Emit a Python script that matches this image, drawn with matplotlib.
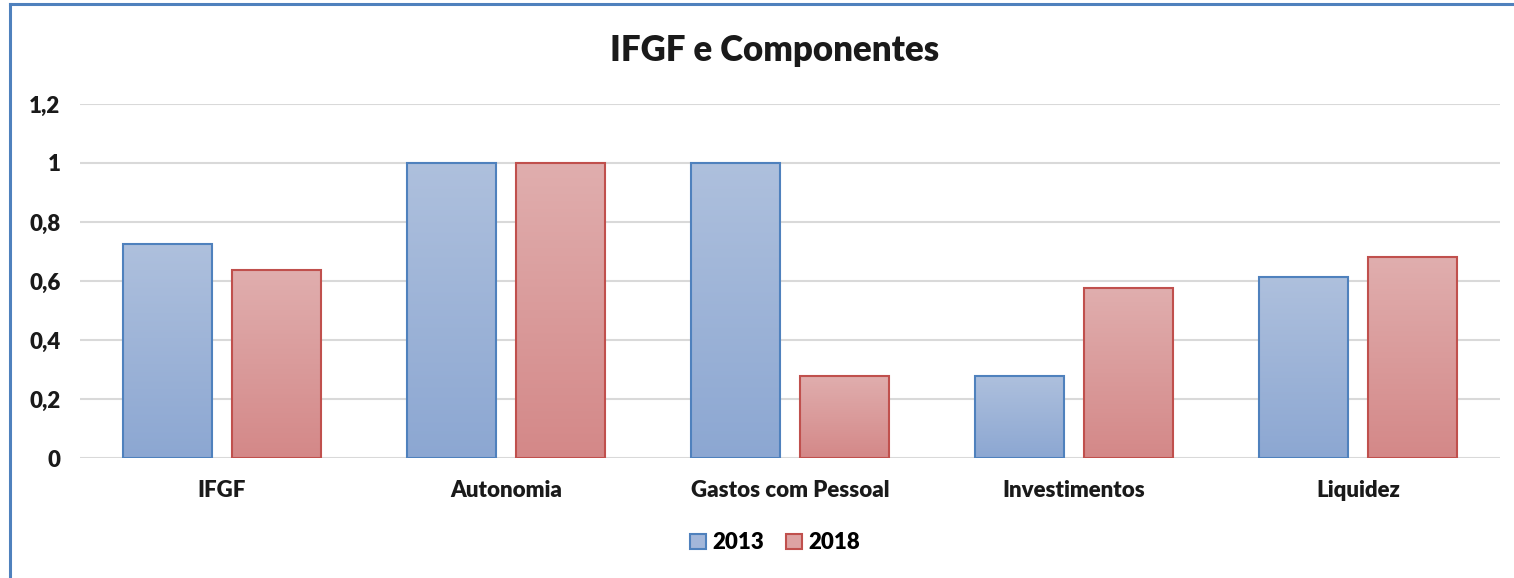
import numpy as np
import matplotlib
matplotlib.use("Agg")
import matplotlib.pyplot as plt
from matplotlib.colors import LinearSegmentedColormap
from matplotlib.lines import Line2D
from matplotlib.patches import Patch

categories = ["IFGF", "Autonomia", "Gastos com Pessoal", "Investimentos", "Liquidez"]
years = ["2013", "2018"]
values_2013 = [0.725, 1.0, 1.0, 0.278, 0.614]
values_2018 = [0.637, 1.0, 0.278, 0.576, 0.681]
yticks = [0, 0.2, 0.4, 0.6, 0.8, 1.0, 1.2]
ytick_labels = ["0", "0,2", "0,4", "0,6", "0,8", "1", "1,2"]

plt.rcParams["font.family"] = ["Lato", "DejaVu Sans"]
plt.rcParams["font.weight"] = "heavy"

fig = plt.figure(figsize=(15.14, 5.78), dpi=100)
ax = fig.add_axes([0.0528, 0.2076, 0.938, 0.6125])

series = [
    (values_2013, -0.192, "#4F81BD", ("#AEC0DD", "#8CA7D2")),
    (values_2018, 0.192, "#C0504D", ("#E0AEAE", "#D48888")),
]
width = 0.313
x = np.arange(len(categories))

for vals, off, edge, (top_c, bot_c) in series:
    cmap = LinearSegmentedColormap.from_list("g", [bot_c, top_c])
    bars = ax.bar(x + off, vals, width, color="none", edgecolor=edge, linewidth=1.5, zorder=3)
    for b in bars:
        x0, y0 = b.get_x(), b.get_y()
        w, h = b.get_width(), b.get_height()
        grad = np.linspace(0, 1, 256).reshape(-1, 1)
        im = ax.imshow(grad, cmap=cmap, origin="lower", aspect="auto",
                       extent=[x0, x0 + w, y0, y0 + h], zorder=2)
        im.set_clip_path(b)

ax.set_xlim(-0.5, len(categories) - 0.5)
ax.set_ylim(0, 1.2)
ax.set_yticks(yticks)
ax.set_yticklabels(ytick_labels)
ax.set_xticks(x)
ax.set_xticklabels(categories)
ax.tick_params(axis="both", length=0, labelsize=16, colors="#1a1a1a")
ax.tick_params(axis="y", pad=14)
ax.tick_params(axis="x", pad=16)
ax.grid(axis="y", color="#D9D9D9", linewidth=1.5, zorder=0)
ax.set_axisbelow(True)
for s in ax.spines.values():
    s.set_visible(False)

fig.text(0.5118, 0.913, "IFGF e Componentes", ha="center", va="center",
         fontsize=25, fontweight="heavy", color="#1a1a1a")

handles = [
    Patch(facecolor="#A3B7DA", edgecolor="#4F81BD", linewidth=1.5),
    Patch(facecolor="#DDA3A3", edgecolor="#C0504D", linewidth=1.5),
]
fig.legend(handles, years, loc="center", bbox_to_anchor=(0.512, 0.061), ncol=2,
           frameon=False, fontsize=16, handlelength=0.7, handleheight=0.7,
           handletextpad=0.3, columnspacing=1.0)

# outer chart frame (left and top edges visible)
fig.add_artist(Line2D([0.0066, 0.0066], [0, 0.9925], color="#4F81BD", linewidth=2.2,
                      transform=fig.transFigure))
fig.add_artist(Line2D([0.0066, 1.0], [0.9925, 0.9925], color="#4F81BD", linewidth=2.2,
                      transform=fig.transFigure))

fig.savefig("out.png", dpi=100)
